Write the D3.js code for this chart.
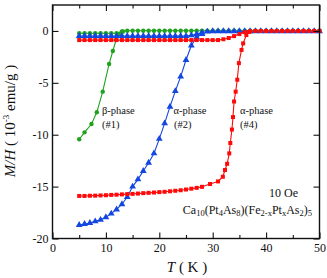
<!DOCTYPE html>
<html><head><meta charset="utf-8">
<script src="https://cdn.jsdelivr.net/npm/d3@7"></script>
<style>
body{margin:0;background:#fff}
text{font-family:"Liberation Serif","Times New Roman",serif;fill:#111}
</style>
</head><body>
<svg id="c" width="327" height="278"></svg>
<script>
// ---- data ----
const xTicks = [0, 10, 20, 30, 40, 50];
const xMinorTicks = [5, 15, 25, 35, 45];
const yTicks = [0, -5, -10, -15, -20];

const T1K = [5,6,7,8,9,10,11,12,13,14,15,16,17,18,19,20,21,22,23,24,25,26,27,28,29,30,31,32,33,34,35,36,37,38,39,40,41,42,43,44,45,46,47,48,49,50];

// beta-phase (#1), green
const greenZfcT = [5,6,7.3,8.3,9.4,10.6,11.3,11.9,12.5,13.2];
const greenZfcM = [-10.44,-9.77,-8.97,-7.84,-5.85,-3.18,-1.93,-0.87,-0.3,-0.05];
const greenFcM = [-0.22,-0.22,-0.22,-0.22,-0.22,-0.22,-0.22,-0.22,-0.05,0.02,0.02,0.02,0.02,0.02,0.02,0.02,0.02,0.02,0.02,0.02,0.02,0.02,0.02,0.02,0.02,0.02,0.02,0.02,0.02,0.02,0.02,0.02,0.02,0.02,0.02,0.02,0.02,0.02,0.02,0.02,0.02,0.02,0.02,0.02,0.02,0.02];

// alpha-phase (#2), blue
const blueZfcT = [5,6,7,8,9,10,11,12,13,14,15,16,17,18,19,20,21,22,23,24,25,26,27,28];
const blueZfcM = [-18.7,-18.6,-18.5,-18.35,-18.2,-17.95,-17.6,-17.2,-16.7,-16.0,-15.0,-14.3,-13.5,-12.7,-11.8,-10.4,-8.9,-7.3,-5.8,-4.4,-2.8,-1.4,-0.6,-0.3];
const blueFcM = [-0.48,-0.48,-0.48,-0.48,-0.48,-0.48,-0.48,-0.48,-0.48,-0.48,-0.48,-0.48,-0.48,-0.48,-0.48,-0.48,-0.48,-0.48,-0.48,-0.48,-0.48,-0.42,-0.3,-0.15,-0.06,-0.03,-0.03,-0.03,-0.03,-0.03,-0.03,-0.03,-0.03,-0.03,-0.03,-0.03,-0.03,-0.03,-0.03,-0.03,-0.03,-0.03,-0.03,-0.03,-0.03,-0.03];

// alpha-phase (#4), red
const redZfcT = [5,6,7,8,9,10,11,12,13,14,15,16,17,18,19,20,21,22,23,24,25,26,27,28,29.5,31,31.9,32.3,32.7,33.1,33.3,33.6,33.8,34.0,34.3,34.6,34.9,35.4,35.7,36.3,36.8];
const redZfcM = [-15.9,-15.9,-15.88,-15.87,-15.85,-15.83,-15.8,-15.78,-15.75,-15.72,-15.7,-15.67,-15.63,-15.6,-15.57,-15.53,-15.5,-15.45,-15.4,-15.35,-15.28,-15.2,-15.12,-15.02,-14.75,-14.5,-14.05,-13.4,-12.8,-11.8,-10.8,-9.5,-8.3,-6.8,-5.85,-4.7,-3.1,-1.83,-1.2,-0.4,-0.1];
const redFcM = [-0.88,-0.88,-0.88,-0.88,-0.88,-0.88,-0.88,-0.88,-0.88,-0.88,-0.88,-0.88,-0.88,-0.88,-0.88,-0.88,-0.88,-0.88,-0.88,-0.88,-0.88,-0.88,-0.88,-0.88,-0.88,-0.88,-0.88,-0.8,-0.68,-0.5,-0.3,-0.12,-0.03,0,0,0,0,0,0,0,0,0,0,0,0,0];

const colors = {green:"#1fa31f", blue:"#1446e0", red:"#ff0a0a"};

// ---- chart ----
const svg = d3.select("#c");
const x = d3.scaleLinear().domain([0,50]).range([52.5,319.5]);
const y = d3.scaleLinear().domain([-20,2.5]).range([238.5,5]);

const zip = (xs, ys) => xs.map((t,i)=>[t, ys[i]]);
const line = d3.line().x(d=>x(d[0])).y(d=>y(d[1]));

function series(data, color, shape){
  const g = svg.append("g");
  g.append("path").attr("d", line(data)).attr("fill","none").attr("stroke",color).attr("stroke-width",1.1);
  if(shape==="circle"){
    g.selectAll("circle").data(data).join("circle")
      .attr("cx",d=>x(d[0])).attr("cy",d=>y(d[1])).attr("r",2.2).attr("fill",color);
  } else if(shape==="square"){
    g.selectAll("rect").data(data).join("rect")
      .attr("x",d=>x(d[0])-2).attr("y",d=>y(d[1])-2).attr("width",4).attr("height",4).attr("fill",color);
  } else {
    const sym = d3.symbol().type(d3.symbolTriangle).size(20);
    g.selectAll("path.m").data(data).join("path").attr("class","m")
      .attr("transform",d=>`translate(${x(d[0])},${y(d[1])})`).attr("d",sym()).attr("fill",color);
  }
}

series(zip(T1K, greenFcM), colors.green, "circle");
series(zip(greenZfcT, greenZfcM), colors.green, "circle");
series(zip(T1K, blueFcM), colors.blue, "triangle");
series(zip(blueZfcT, blueZfcM), colors.blue, "triangle");
series(zip(T1K, redFcM), colors.red, "square");
series(zip(redZfcT, redZfcM), colors.red, "square");

// axes
const fmt = d => d3.format("d")(d).replace("−","-");
function styleAxis(g){ g.select(".domain").remove(); g.selectAll("line").attr("stroke","#111").attr("stroke-width",1.1); }

svg.append("g").attr("transform",`translate(0,${y(-20)})`)
  .call(d3.axisBottom(x).tickValues(xTicks).tickSize(-6).tickPadding(5).tickFormat(fmt))
  .call(styleAxis).call(g=>g.selectAll("text").attr("font-size",12).attr("fill","#111"));
svg.append("g").attr("transform",`translate(0,${y(-20)})`)
  .call(d3.axisBottom(x).tickValues(xMinorTicks).tickSize(-3.5).tickFormat(""))
  .call(styleAxis);
svg.append("g").attr("transform",`translate(0,${y(2.5)})`)
  .call(d3.axisTop(x).tickValues(xTicks).tickSize(-6).tickFormat(""))
  .call(styleAxis);
svg.append("g").attr("transform",`translate(0,${y(2.5)})`)
  .call(d3.axisTop(x).tickValues(xMinorTicks).tickSize(-3.5).tickFormat(""))
  .call(styleAxis);
svg.append("g").attr("transform",`translate(${x(0)},0)`)
  .call(d3.axisLeft(y).tickValues(yTicks).tickSize(-6).tickPadding(4).tickFormat(fmt))
  .call(styleAxis).call(g=>g.selectAll("text").attr("font-size",12).attr("fill","#111"));
svg.append("g").attr("transform",`translate(${x(50)},0)`)
  .call(d3.axisRight(y).tickValues(yTicks).tickSize(-6).tickFormat(""))
  .call(styleAxis);

svg.append("rect").attr("x",x(0)).attr("y",y(2.5)).attr("width",x(50)-x(0)).attr("height",y(-20)-y(2.5))
  .attr("fill","none").attr("stroke","#111").attr("stroke-width",1.4);

// axis titles
const xt = svg.append("text").attr("x",187).attr("y",272).attr("text-anchor","middle").attr("font-size",15);
xt.append("tspan").attr("font-style","italic").text("T");
xt.append("tspan").text(" ( K )");

const yt = svg.append("text").attr("transform","translate(15,121) rotate(-90)").attr("text-anchor","middle").attr("font-size",15);
yt.append("tspan").attr("font-style","italic").text("M/H");
yt.append("tspan").text(" ( 10");
yt.append("tspan").attr("font-size",9).attr("dy",-6).text("-3");
yt.append("tspan").attr("dy",6).text(" emu/g )");

// annotations
const ann = [
  {t:"β-phase", x:102, y:114}, {t:"(#1)", x:102, y:128},
  {t:"α-phase", x:173.5, y:114}, {t:"(#2)", x:174, y:128},
  {t:"α-phase", x:240, y:114}, {t:"(#4)", x:240, y:128}
];
svg.selectAll("text.ann").data(ann).join("text").attr("class","ann")
  .attr("x",d=>d.x).attr("y",d=>d.y).attr("font-size",10.5).attr("fill","#333").text(d=>d.t);

svg.append("text").attr("x",298).attr("y",197).attr("text-anchor","end").attr("font-size",12).text("10 Oe");

const formula = [["Ca",0],["10",1],["(Pt",0],["4",1],["As",0],["8",1],[")(Fe",0],["2-x",1],["Pt",0],["x",1],["As",0],["2",1],[")",0],["5",1]];
const ft = svg.append("text").attr("x",312).attr("y",214).attr("text-anchor","end").attr("font-size",12);
let shifted = false;
formula.forEach(([s,sub])=>{
  const ts = ft.append("tspan").text(s);
  if(sub){ ts.attr("font-size",8.5).attr("dy", shifted?0:2); shifted = true; }
  else { ts.attr("dy", shifted?-2:0); shifted = false; }
});
</script>
</body></html>
